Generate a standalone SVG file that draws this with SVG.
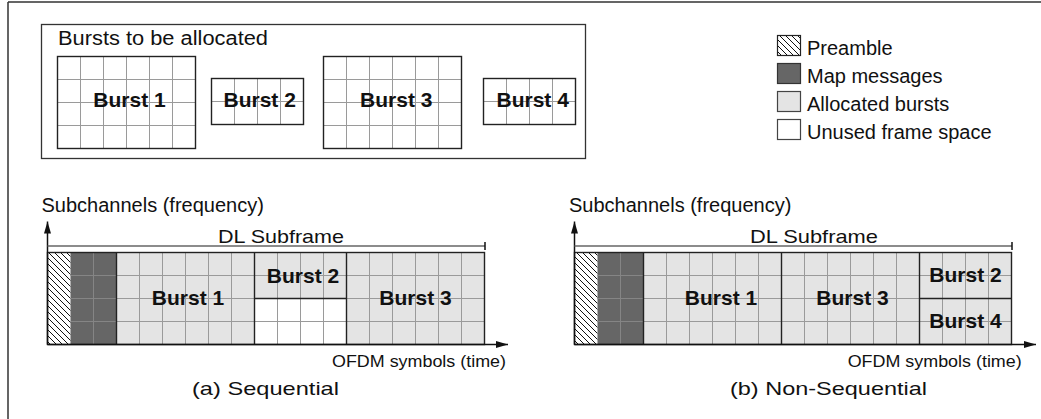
<svg xmlns="http://www.w3.org/2000/svg" width="1041" height="419" viewBox="0 0 1041 419">
  <style>
    text { font-family: "Liberation Sans", Arial, sans-serif; fill: #111; }
    .lbl { font-size: 20px; }
    .burst { font-size: 21px; font-weight: bold; text-anchor: middle; }
    .axis-t { font-size: 16px; text-anchor: end; }
    .cap { font-size: 19px; text-anchor: middle; }
    .dl { font-size: 19px; text-anchor: middle; }
    .box { fill: none; stroke: #222; stroke-width: 1.4; }
    .grid { fill: none; stroke: #9a9a9a; stroke-width: 1; }
    .grid-dark { fill: none; stroke: #858585; stroke-width: 1; }
    .alloc { fill: #e4e4e4; }
    .map { fill: #666666; }
    .unused { fill: #ffffff; }
    .pre { fill: url(#hatch); }
    .axis { stroke: #111; stroke-width: 1.5; fill: none; }
    .span { stroke: #666; stroke-width: 1.5; fill: none; }
  </style>
  <defs>
    <pattern id="hatch" patternUnits="userSpaceOnUse" width="6" height="6">
      <rect width="6" height="6" fill="#fff"/>
      <path d="M0,0 L6,6 M-1,5 L1,7 M5,-1 L7,1" stroke="#111" stroke-width="1"/>
    </pattern>
    <marker id="arrow" viewBox="0 0 12 7" refX="12" refY="3.5" markerWidth="12" markerHeight="7" markerUnits="userSpaceOnUse" orient="auto" preserveAspectRatio="none">
      <path d="M0,0 L12,3.5 L0,7 z" fill="#111"/>
    </marker>
  </defs>

  <!-- page frame (top and left edges) -->
  <path d="M8,2 H1041 M8,2 V419" stroke="#333" stroke-width="1.5" fill="none"/>

  <!-- pool of bursts waiting for allocation -->
  <g id="burst-pool">
    <rect x="41.5" y="24.5" width="544" height="134" fill="none" stroke="#333" stroke-width="1.3"/>
    <text class="lbl" x="58" y="45" textLength="210" lengthAdjust="spacingAndGlyphs">Bursts to be allocated</text>
  </g>

  <g id="pool-burst1">
    <rect x="57.5" y="56.5" width="138" height="92" fill="#fff"/>
    <path class="grid" d="M80.5,56.5V148.5 M103.5,56.5V148.5 M126.5,56.5V148.5 M149.5,56.5V148.5 M172.5,56.5V148.5 M57.5,79.5H195.5 M57.5,102.5H195.5 M57.5,125.5H195.5"/>
    <rect class="box" x="57.5" y="56.5" width="138" height="92"/>
    <text class="burst" x="129.5" y="107">Burst 1</text>
  </g>
  <g id="pool-burst2">
    <rect x="211.5" y="78.5" width="92" height="46" fill="#fff"/>
    <path class="grid" d="M234.5,78.5V124.5 M257.5,78.5V124.5 M280.5,78.5V124.5 M211.5,101.5H303.5"/>
    <rect class="box" x="211.5" y="78.5" width="92" height="46"/>
    <text class="burst" x="259.7" y="107">Burst 2</text>
  </g>
  <g id="pool-burst3">
    <rect x="323.5" y="56.5" width="138" height="92" fill="#fff"/>
    <path class="grid" d="M346.5,56.5V148.5 M369.5,56.5V148.5 M392.5,56.5V148.5 M415.5,56.5V148.5 M438.5,56.5V148.5 M323.5,79.5H461.5 M323.5,102.5H461.5 M323.5,125.5H461.5"/>
    <rect class="box" x="323.5" y="56.5" width="138" height="92"/>
    <text class="burst" x="396.3" y="107">Burst 3</text>
  </g>
  <g id="pool-burst4">
    <rect x="483.5" y="78.5" width="92" height="46" fill="#fff"/>
    <path class="grid" d="M506.5,78.5V124.5 M529.5,78.5V124.5 M552.5,78.5V124.5 M483.5,101.5H575.5"/>
    <rect class="box" x="483.5" y="78.5" width="92" height="46"/>
    <text class="burst" x="532.7" y="107">Burst 4</text>
  </g>

  <!-- legend -->
  <g id="legend">
    <rect x="777.5" y="35.5" width="23" height="20" fill="url(#hatch)" stroke="#222" stroke-width="1.2"/>
    <text class="lbl" x="807" y="55">Preamble</text>
    <rect x="777.5" y="63.5" width="23" height="20" class="map" stroke="#333" stroke-width="1.2"/>
    <text class="lbl" x="807" y="83">Map messages</text>
    <rect x="777.5" y="91.5" width="23" height="20" class="alloc" stroke="#444" stroke-width="1.2"/>
    <text class="lbl" x="807" y="111">Allocated bursts</text>
    <rect x="777.5" y="119.5" width="23" height="20" class="unused" stroke="#444" stroke-width="1.2"/>
    <text class="lbl" x="807" y="139">Unused frame space</text>
  </g>

  <!-- (a) sequential allocation -->
  <g id="frame-a">
    <rect class="pre" x="47.5" y="252.5" width="23" height="92"/>
    <rect class="map" x="70.5" y="252.5" width="46" height="92"/>
    <rect class="alloc" x="116.5" y="252.5" width="138" height="92"/>
    <rect class="alloc" x="254.5" y="252.5" width="92" height="46"/>
    <rect class="unused" x="254.5" y="298.5" width="92" height="46"/>
    <rect class="alloc" x="346.5" y="252.5" width="138" height="92"/>
    <path class="grid-dark" d="M93.5,252.5V344.5 M70.5,275.5H116.5 M70.5,298.5H116.5 M70.5,321.5H116.5"/>
    <path class="grid" d="M139.5,252.5V344.5 M162.5,252.5V344.5 M185.5,252.5V344.5 M208.5,252.5V344.5 M231.5,252.5V344.5 M277.5,252.5V344.5 M300.5,252.5V344.5 M323.5,252.5V344.5 M369.5,252.5V344.5 M392.5,252.5V344.5 M415.5,252.5V344.5 M438.5,252.5V344.5 M461.5,252.5V344.5 M116.5,275.5H484.5 M116.5,298.5H484.5 M116.5,321.5H484.5"/>
    <path class="box" d="M116.5,252.5V344.5 M254.5,252.5V344.5 M346.5,252.5V344.5 M254.5,298.5H346.5"/>
    <rect class="box" x="47.5" y="252.5" width="437" height="92"/>
    <text class="burst" x="188" y="305">Burst 1</text>
    <text class="burst" x="303" y="282.5">Burst 2</text>
    <text class="burst" x="415.5" y="305">Burst 3</text>
  </g>

  <!-- (b) non-sequential allocation -->
  <g id="frame-b">
    <rect class="pre" x="574.5" y="252.5" width="23" height="92"/>
    <rect class="map" x="597.5" y="252.5" width="46" height="92"/>
    <rect class="alloc" x="643.5" y="252.5" width="368" height="92"/>
    <path class="grid-dark" d="M620.5,252.5V344.5 M597.5,275.5H643.5 M597.5,298.5H643.5 M597.5,321.5H643.5"/>
    <path class="grid" d="M666.5,252.5V344.5 M689.5,252.5V344.5 M712.5,252.5V344.5 M735.5,252.5V344.5 M758.5,252.5V344.5 M804.5,252.5V344.5 M827.5,252.5V344.5 M850.5,252.5V344.5 M873.5,252.5V344.5 M896.5,252.5V344.5 M942.5,252.5V344.5 M965.5,252.5V344.5 M988.5,252.5V344.5 M643.5,275.5H1011.5 M643.5,298.5H1011.5 M643.5,321.5H1011.5"/>
    <path class="box" d="M643.5,252.5V344.5 M781.5,252.5V344.5 M919.5,252.5V344.5 M919.5,298.5H1011.5"/>
    <rect class="box" x="574.5" y="252.5" width="437" height="92"/>
    <text class="burst" x="721" y="305">Burst 1</text>
    <text class="burst" x="852.5" y="305">Burst 3</text>
    <text class="burst" x="965.5" y="282">Burst 2</text>
    <text class="burst" x="965.5" y="328">Burst 4</text>
  </g>

  <!-- axes, subframe span and captions -->
  <g id="connectors">
    <path class="axis" d="M47.5,344.5V221.5" marker-end="url(#arrow)"/>
    <path class="axis" d="M47.5,344.5H508" marker-end="url(#arrow)"/>
    <path class="span" d="M47.5,246H485"/>
    <path class="axis" d="M485,242V250"/>
    <path class="axis" d="M574.5,344.5V221.5" marker-end="url(#arrow)"/>
    <path class="axis" d="M574.5,344.5H1036" marker-end="url(#arrow)"/>
    <path class="span" d="M574.5,246H1012"/>
    <path class="axis" d="M1012,242V250"/>
  </g>

  <g id="labels-a">
    <text class="lbl" x="41.5" y="211.5">Subchannels (frequency)</text>
    <text class="dl" x="281" y="243" textLength="126" lengthAdjust="spacingAndGlyphs">DL Subframe</text>
    <text class="axis-t" x="506" y="367" textLength="174" lengthAdjust="spacingAndGlyphs">OFDM symbols (time)</text>
    <text class="cap" x="265.5" y="395" textLength="147" lengthAdjust="spacingAndGlyphs">(a) Sequential</text>
  </g>
  <g id="labels-b">
    <text class="lbl" x="569" y="211.5">Subchannels (frequency)</text>
    <text class="dl" x="814" y="243" textLength="128" lengthAdjust="spacingAndGlyphs">DL Subframe</text>
    <text class="axis-t" x="1021.7" y="367" textLength="174" lengthAdjust="spacingAndGlyphs">OFDM symbols (time)</text>
    <text class="cap" x="828.5" y="395" textLength="197" lengthAdjust="spacingAndGlyphs">(b) Non-Sequential</text>
  </g>
</svg>
